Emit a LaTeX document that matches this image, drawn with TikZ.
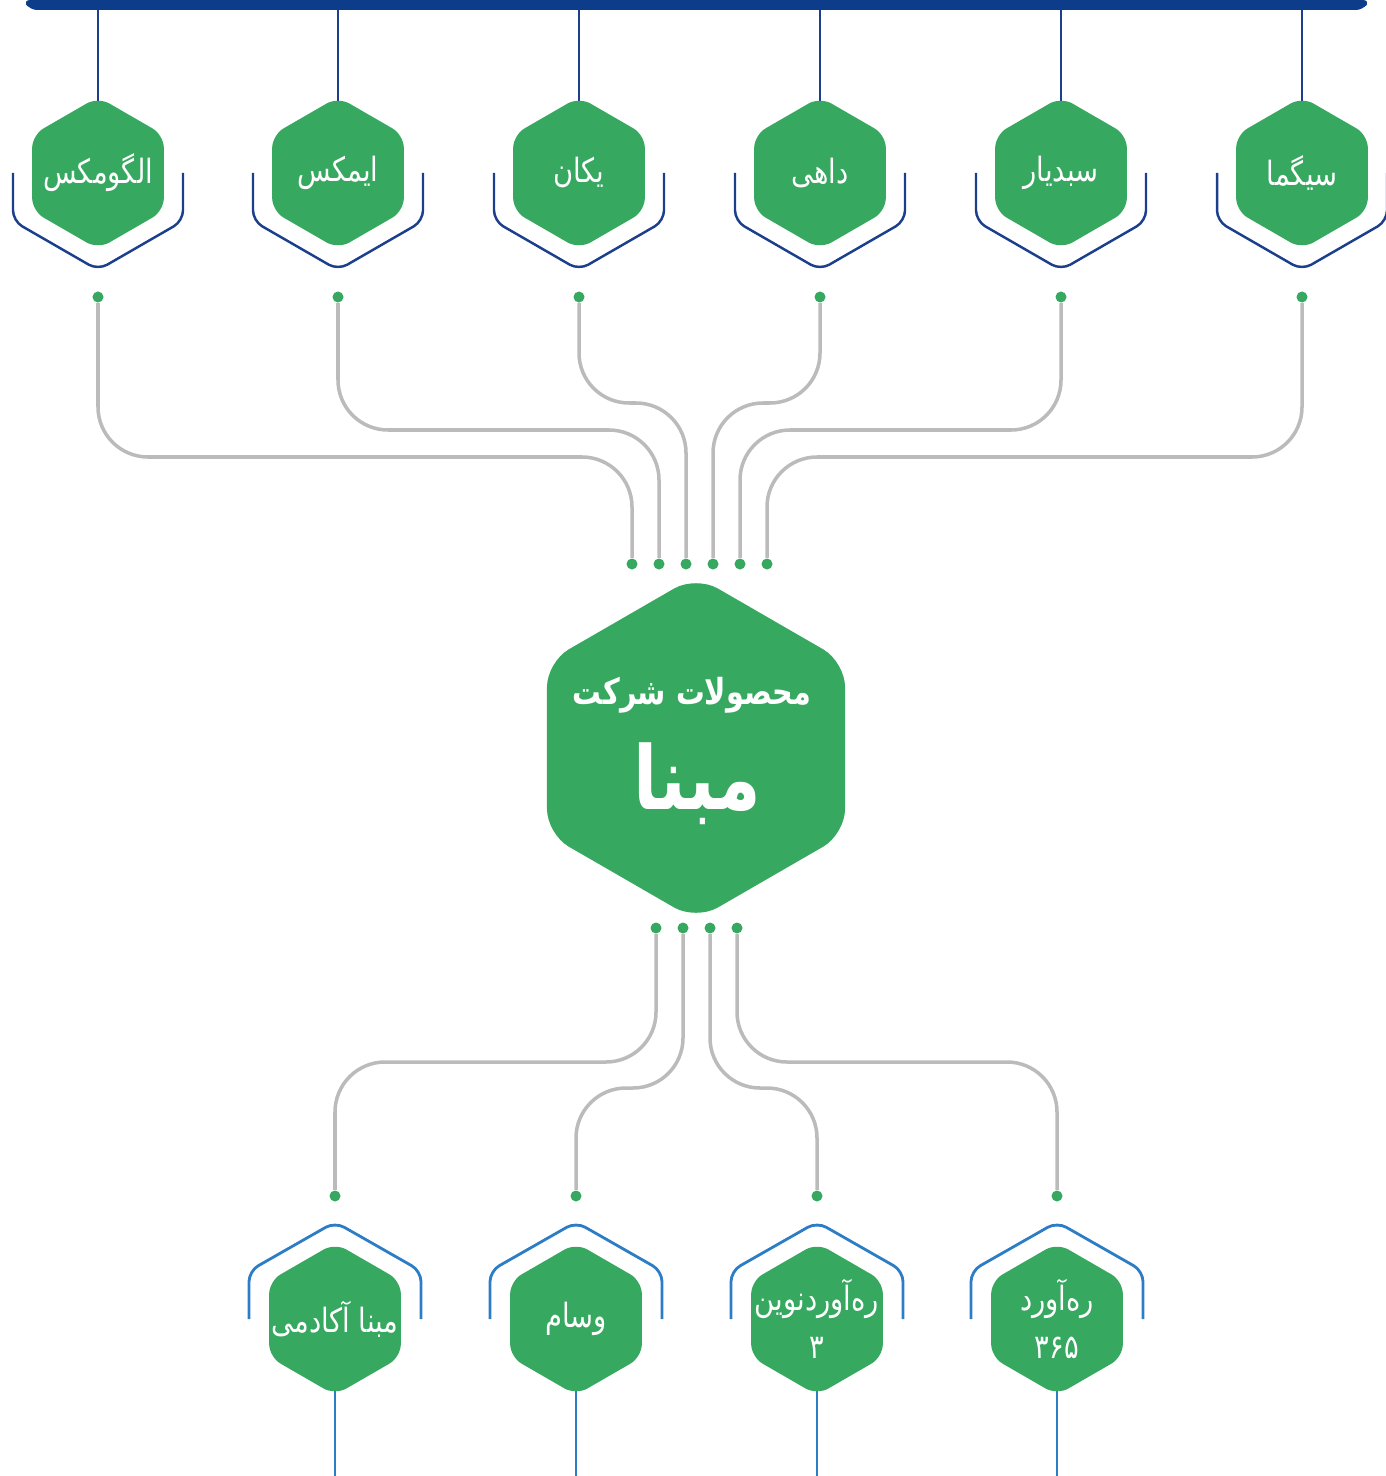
\documentclass[tikz,border=0pt]{standalone}
\usepackage{fontspec}
\newfontfamily\arabicfont[Script=Arabic, FakeStretch=0.82]{DejaVu Sans}
\newfontfamily\brandfont[Script=Arabic, FakeStretch=0.8]{DejaVu Sans}
\TeXXeTstate=1
\usetikzlibrary{shapes.geometric, backgrounds}
\definecolor{hexgreen}{HTML}{36A860}
\definecolor{barblue}{HTML}{0C3C8A}
\definecolor{topblue}{HTML}{1C3F8C}
\definecolor{lowblue}{HTML}{2C7DC6}
\definecolor{wiregray}{HTML}{BBBBBB}

\tikzset{
  hexbox/.style={regular polygon, regular polygon sides=6, shape border rotate=30,
    fill=hexgreen, minimum size=1.52cm, rounded corners=0.13cm, inner sep=0pt},
  hextext/.style={text=white, inner sep=0pt, align=center,
    font=\arabicfont\fontsize{9.5}{13.5}\selectfont},
  pin/.style={circle, fill=hexgreen, minimum size=0.11cm, inner sep=0pt},
  wire/.style={wiregray, line width=1pt, rounded corners=0.5cm},
  topline/.style={topblue, line width=0.7pt},
  lowline/.style={lowblue, line width=0.8pt},
}

\begin{document}
\begin{tikzpicture}[x=0.01cm, y=-0.01cm]
\useasboundingbox (0,0) rectangle (1385,1476);

% top bar
\fill[barblue, rounded corners=2pt] (23,0) -- (30,10) -- (1363,10) -- (1370,0) -- cycle;
\coordinate (balgomx) at (98,10);
\coordinate (bimax) at (338,10);
\coordinate (byekan) at (579,10);
\coordinate (bdahi) at (820,10);
\coordinate (bsabadyar) at (1061,10);
\coordinate (bsigma) at (1302,10);

% top products
\node[hexbox] (algomx) at (98,173) {};
\node[hexbox] (imax) at (338,173) {};
\node[hexbox] (yekan) at (579,173) {};
\node[hexbox] (dahi) at (820,173) {};
\node[hexbox] (sabadyar) at (1061,173) {};
\node[hexbox] (sigma) at (1302,173) {};

\node[hextext] (algomxtext) at (algomx) {\beginR الگومکس\endR};
\node[hextext] (imaxtext) at (imax) {\beginR ایمکس\endR};
\node[hextext] (yekantext) at (yekan) {\beginR یکان\endR};
\node[hextext] (dahitext) at (dahi) {\beginR داهی\endR};
\node[hextext] (sabadyartext) at (sabadyar) {\beginR سبدیار\endR};
\node[hextext] (sigmatext) at (sigma) {\beginR سیگما\endR};

\begin{scope}[on background layer]
  \draw[topline] (balgomx) -- (algomx.center);
  \draw[topline] (bimax) -- (imax.center);
  \draw[topline] (byekan) -- (yekan.center);
  \draw[topline] (bdahi) -- (dahi.center);
  \draw[topline] (bsabadyar) -- (sabadyar.center);
  \draw[topline] (bsigma) -- (sigma.center);
\end{scope}

% brackets under the top row
\draw[topline, rounded corners=3pt] (algomx.center) ++(-85,0) -- ++(0,48) -- ++(85,49) -- ++(85,-49) -- ++(0,-48);
\draw[topline, rounded corners=3pt] (imax.center) ++(-85,0) -- ++(0,48) -- ++(85,49) -- ++(85,-49) -- ++(0,-48);
\draw[topline, rounded corners=3pt] (yekan.center) ++(-85,0) -- ++(0,48) -- ++(85,49) -- ++(85,-49) -- ++(0,-48);
\draw[topline, rounded corners=3pt] (dahi.center) ++(-85,0) -- ++(0,48) -- ++(85,49) -- ++(85,-49) -- ++(0,-48);
\draw[topline, rounded corners=3pt] (sabadyar.center) ++(-85,0) -- ++(0,48) -- ++(85,49) -- ++(85,-49) -- ++(0,-48);
\draw[topline, rounded corners=3pt] (sigma.center) ++(-85,0) -- ++(0,48) -- ++(85,49) -- ++(85,-49) -- ++(0,-48);

% pins
\node[pin] (palgomx) at (98,297) {};
\node[pin] (pimax) at (338,297) {};
\node[pin] (pyekan) at (579,297) {};
\node[pin] (pdahi) at (820,297) {};
\node[pin] (psabadyar) at (1061,297) {};
\node[pin] (psigma) at (1302,297) {};

\node[pin] (halgomx) at (632,564) {};
\node[pin] (himax) at (659,564) {};
\node[pin] (hyekan) at (686,564) {};
\node[pin] (hdahi) at (713,564) {};
\node[pin] (hsabadyar) at (740,564) {};
\node[pin] (hsigma) at (767,564) {};

\draw[wire] (palgomx) -- ++(0,160) -| (halgomx);
\draw[wire] (pimax) -- ++(0,133) -| (himax);
\draw[wire] (pyekan) -- ++(0,106) -| (hyekan);
\draw[wire] (pdahi) -- ++(0,106) -| (hdahi);
\draw[wire] (psabadyar) -- ++(0,133) -| (hsabadyar);
\draw[wire] (psigma) -- ++(0,160) -| (hsigma);

% company
\node[hexbox, minimum size=3.44cm, rounded corners=0.25cm] (mabna) at (696,748) {};
\node[hextext, font=\brandfont\bfseries\fontsize{10.2}{14}\selectfont] (mabnatitle) at (692,695) {\beginR محصولات شرکت\endR};
\node[hextext, font=\brandfont\bfseries\fontsize{25}{28}\selectfont] (mabnaname) at (697,784) {\beginR مبنا\endR};

% lower pins
\node[pin] (hacademy) at (656,928) {};
\node[pin] (hvesam) at (683,928) {};
\node[pin] (hnovin) at (710,928) {};
\node[pin] (hrahavard) at (737,928) {};

\node[pin] (pacademy) at (335,1196) {};
\node[pin] (pvesam) at (576,1196) {};
\node[pin] (pnovin) at (817,1196) {};
\node[pin] (prahavard) at (1057,1196) {};

\draw[wire] (hacademy) -- ++(0,134) -| (pacademy);
\draw[wire] (hvesam) -- ++(0,160) -| (pvesam);
\draw[wire] (hnovin) -- ++(0,160) -| (pnovin);
\draw[wire] (hrahavard) -- ++(0,134) -| (prahavard);

% lower products
\node[hexbox] (academy) at (335,1319) {};
\node[hexbox] (vesam) at (576,1319) {};
\node[hexbox] (novin) at (817,1319) {};
\node[hexbox] (rahavard) at (1057,1319) {};

\node[hextext] (academytext) at (academy) {\beginR مبنا آکادمی\endR};
\node[hextext] (vesamtext) at (vesam) {\beginR وسام\endR};
\node[hextext] (novintext) at (novin) {\beginR ره^^^^200cآوردنوین\endR\\\beginR ۳\endR};
\node[hextext] (rahavardtext) at (rahavard) {\beginR ره^^^^200cآورد\endR\\\beginR ۳۶۵\endR};

\coordinate (eacademy) at (335,1476);
\coordinate (evesam) at (576,1476);
\coordinate (enovin) at (817,1476);
\coordinate (erahavard) at (1057,1476);

\begin{scope}[on background layer]
  \draw[lowline] (academy.center) -- (eacademy);
  \draw[lowline] (vesam.center) -- (evesam);
  \draw[lowline] (novin.center) -- (enovin);
  \draw[lowline] (rahavard.center) -- (erahavard);
\end{scope}

% brackets over the lower row
\draw[lowline, rounded corners=3pt] (academy.center) ++(-86,0) -- ++(0,-48) -- ++(86,-49) -- ++(86,49) -- ++(0,48);
\draw[lowline, rounded corners=3pt] (vesam.center) ++(-86,0) -- ++(0,-48) -- ++(86,-49) -- ++(86,49) -- ++(0,48);
\draw[lowline, rounded corners=3pt] (novin.center) ++(-86,0) -- ++(0,-48) -- ++(86,-49) -- ++(86,49) -- ++(0,48);
\draw[lowline, rounded corners=3pt] (rahavard.center) ++(-86,0) -- ++(0,-48) -- ++(86,-49) -- ++(86,49) -- ++(0,48);

\end{tikzpicture}
\end{document}
